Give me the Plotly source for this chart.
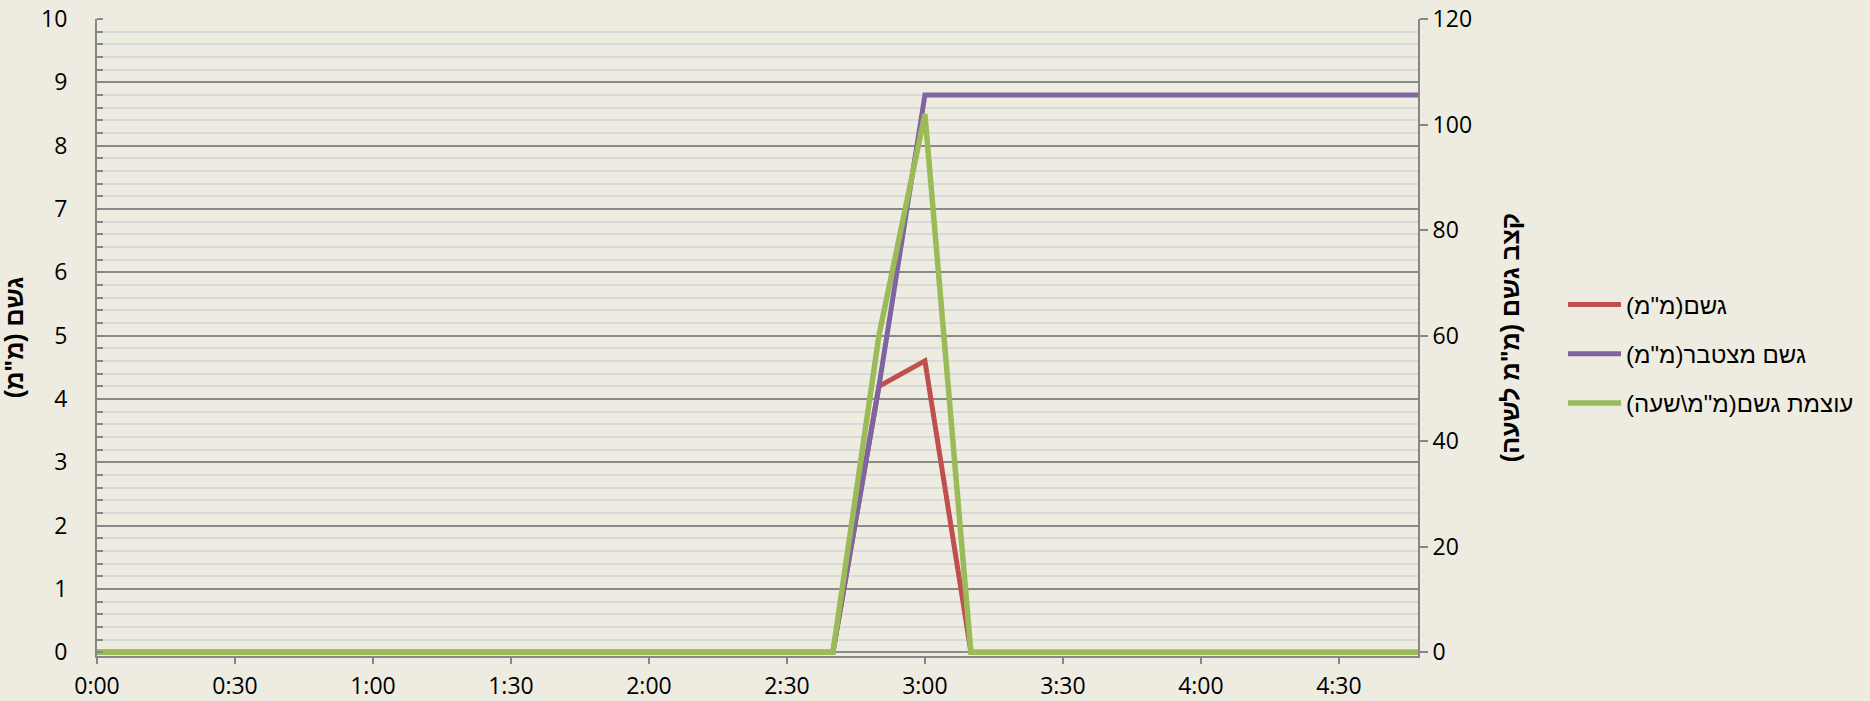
import plotly.graph_objects as go

# ---- data ----
time_labels = ["0:00", "0:10", "0:20", "0:30", "0:40", "0:50",
               "1:00", "1:10", "1:20", "1:30", "1:40", "1:50",
               "2:00", "2:10", "2:20", "2:30", "2:40", "2:50",
               "3:00", "3:10", "3:20", "3:30", "3:40", "3:50",
               "4:00", "4:10", "4:20", "4:30", "4:40", "4:50"]
rain_mm = [0, 0, 0, 0, 0, 0, 0, 0, 0, 0, 0, 0, 0, 0, 0, 0, 0, 4.2,
           4.6, 0, 0, 0, 0, 0, 0, 0, 0, 0, 0, 0]
cum_rain_mm = [0, 0, 0, 0, 0, 0, 0, 0, 0, 0, 0, 0, 0, 0, 0, 0, 0, 4.2,
               8.8, 8.8, 8.8, 8.8, 8.8, 8.8, 8.8, 8.8, 8.8, 8.8, 8.8, 8.8]
intensity_mmh = [0, 0, 0, 0, 0, 0, 0, 0, 0, 0, 0, 0, 0, 0, 0, 0, 0, 60,
                 102, 0, 0, 0, 0, 0, 0, 0, 0, 0, 0, 0]
tick_labels = ["0:00", "0:30", "1:00", "1:30", "2:00", "2:30",
               "3:00", "3:30", "4:00", "4:30"]

names = ["גשם(מ\"מ)", "גשם מצטבר(מ\"מ)", "עוצמת גשם(מ\"מ\\שעה)"]
left_title = "גשם (מ\"מ)"
right_title = "קצב גשם (מ\"מ לשעה)"


def to_min(s):
    h, m = s.split(":")
    return int(h) * 60 + int(m)


def rtl(s):
    # right-to-left embedding so the Hebrew text is laid out as in the original
    return "\u202b\u200f" + s + "\u200f\u202c"


x = [to_min(t) for t in time_labels]
tickvals = [to_min(t) for t in tick_labels]

BG = "#EEECE1"
AXIS = "#878787"
FONT = "Open Sans, DejaVu Sans, sans-serif"
HEB = "Liberation Sans, Arial, DejaVu Sans, sans-serif"

W, H = 1870, 701
# plot-area edges in pixels
L, R, T, B = 97, 1418, 19, 656


def px_x(p):
    return (p - L) / (R - L)


def px_y(p):
    return (B - p) / (B - T)


fig = go.Figure()
fig.add_trace(go.Scatter(x=x, y=rain_mm, mode="lines", name=rtl(names[0]),
                         line=dict(color="#C0504D", width=5), legendgroup="a"))
fig.add_trace(go.Scatter(x=x, y=cum_rain_mm, mode="lines", name=rtl(names[1]),
                         line=dict(color="#8064A2", width=5), legendgroup="b"))
fig.add_trace(go.Scatter(x=x, y=intensity_mmh, mode="lines", name=rtl(names[2]),
                         line=dict(color="#9BBB59", width=5.5), legendgroup="c",
                         yaxis="y2"))

fig.update_layout(
    width=W, height=H,
    paper_bgcolor=BG, plot_bgcolor=BG,
    margin=dict(l=L, r=W - R, t=T, b=H - B, autoexpand=False),
    font=dict(family=FONT, size=23, color="#000000"),
    showlegend=True,
    legend=dict(x=px_x(1563), xanchor="left", y=px_y(354), yanchor="middle",
                font=dict(size=24, family=HEB), tracegroupgap=15,
                itemwidth=53, bgcolor="rgba(0,0,0,0)", traceorder="grouped"),
    xaxis=dict(range=[0, 287.2], tickvals=tickvals, ticktext=tick_labels,
               automargin=False,
               showgrid=False, zeroline=False, showline=True, linecolor=AXIS,
               linewidth=2, ticks="outside", ticklen=6, tickwidth=2,
               tickcolor=AXIS, ticklabelstandoff=2),
    yaxis=dict(range=[-0.06, 10], tickvals=list(range(0, 11)), automargin=False,
               showgrid=True, gridcolor="#8A8A8A", gridwidth=2,
               zeroline=False, showline=True, linecolor=AXIS, linewidth=2,
               ticks="", ticklabelstandoff=23,
               minor=dict(dtick=0.2, tick0=0, ticks="inside", ticklen=6,
                          tickwidth=2, tickcolor=AXIS, showgrid=True,
                          gridcolor="#D6DADB", gridwidth=1.5),
               title=dict(text=rtl(left_title),
                          font=dict(size=25, family=HEB, weight="bold"),
                          standoff=13)),
    yaxis2=dict(range=[-0.72, 120], tickvals=list(range(0, 121, 20)),
                overlaying="y", side="right", showgrid=False, zeroline=False,
                automargin=False,
                showline=True, linecolor=AXIS, linewidth=2,
                ticks="outside", ticklen=8, tickwidth=2, tickcolor=AXIS,
                title=dict(text=rtl(right_title),
                           font=dict(size=25, family=HEB, weight="bold"),
                           standoff=30)),
)

fig.write_html(
    "out.html",
    config={"displayModeBar": False},
    post_script="document.body.style.margin='0';"
                "document.documentElement.style.overflow='hidden';"
                "document.body.style.overflow='hidden';",
)
